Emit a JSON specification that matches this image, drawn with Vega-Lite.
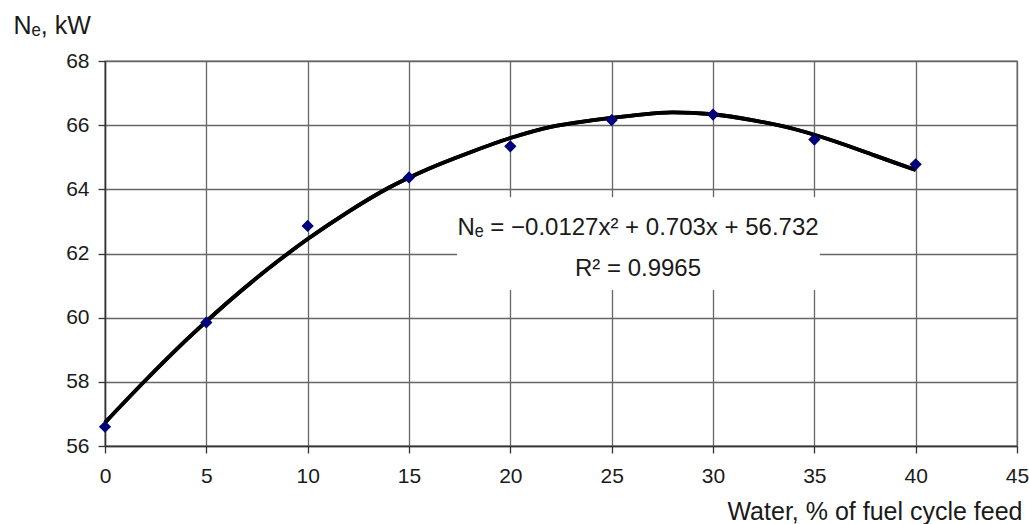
{
  "$schema": "https://vega.github.io/schema/vega-lite/v6.json",
  "width": 912,
  "height": 385,
  "autosize": {"type": "none"},
  "padding": {"left": 105, "top": 61, "right": 12, "bottom": 78},
  "background": "white",
  "config": {
    "view": {"stroke": "#666666", "strokeWidth": 1.3},
    "font": "Liberation Sans",
    "axis": {
      "labelFont": "Liberation Sans",
      "titleFont": "Liberation Sans",
      "labelColor": "#1a1a1a",
      "titleColor": "#1a1a1a",
      "titleFontWeight": "normal",
      "gridColor": "#666666",
      "gridWidth": 1.3,
      "gridOpacity": 1,
      "domainColor": "#333333",
      "domainWidth": 1.5,
      "tickColor": "#333333",
      "tickWidth": 1.3,
      "tickSize": 7,
      "labelFlush": false
    }
  },
  "datasets": {
    "points": [
      {"water": 0, "ne": 56.6},
      {"water": 5, "ne": 59.85},
      {"water": 10, "ne": 62.86},
      {"water": 15, "ne": 64.37},
      {"water": 20, "ne": 65.34},
      {"water": 25, "ne": 66.16},
      {"water": 30, "ne": 66.33},
      {"water": 35, "ne": 65.55},
      {"water": 40, "ne": 64.78}
    ],
    "curve": [
      {"water": 0, "ne": 56.73},
      {"water": 2, "ne": 58.05},
      {"water": 4, "ne": 59.3},
      {"water": 6, "ne": 60.45},
      {"water": 8, "ne": 61.5},
      {"water": 10, "ne": 62.45},
      {"water": 12, "ne": 63.3},
      {"water": 14, "ne": 64.05},
      {"water": 16, "ne": 64.65},
      {"water": 18, "ne": 65.15},
      {"water": 20, "ne": 65.6},
      {"water": 22, "ne": 65.95},
      {"water": 24, "ne": 66.15},
      {"water": 26, "ne": 66.3},
      {"water": 28, "ne": 66.4},
      {"water": 30, "ne": 66.34},
      {"water": 32, "ne": 66.15},
      {"water": 34, "ne": 65.88},
      {"water": 36, "ne": 65.5},
      {"water": 38, "ne": 65.05},
      {"water": 40, "ne": 64.6}
    ],
    "one": [{"k": 1}]
  },
  "layer": [
    {
      "data": {"name": "curve"},
      "mark": {"type": "line", "color": "black", "strokeWidth": 3.8, "interpolate": "monotone"},
      "encoding": {
        "x": {
          "field": "water",
          "type": "quantitative",
          "scale": {"domain": [0, 45], "nice": false, "zero": false},
          "axis": {
            "values": [0, 5, 10, 15, 20, 25, 30, 35, 40, 45],
            "grid": true,
            "labelFontSize": 21,
            "labelPadding": 12,
            "title": "Water, % of fuel cycle feed",
            "titleFontSize": 25,
            "titleAnchor": null,
            "titleAlign": "right",
            "titleBaseline": "alphabetic",
            "titleX": 917,
            "titleY": 73
          }
        },
        "y": {
          "field": "ne",
          "type": "quantitative",
          "scale": {"domain": [56, 68], "nice": false, "zero": false},
          "axis": {
            "values": [56, 58, 60, 62, 64, 66, 68],
            "grid": true,
            "labelFontSize": 21,
            "labelPadding": 9,
            "title": "Nₑ, kW",
            "titleFontSize": 25,
            "titleAngle": 0,
            "titleAnchor": null,
            "titleAlign": "left",
            "titleBaseline": "alphabetic",
            "titleX": -92,
            "titleY": -28
          }
        }
      }
    },
    {
      "data": {"name": "one"},
      "mark": {"type": "rect", "color": "white", "opacity": 1},
      "encoding": {
        "x": {"datum": 17.37, "type": "quantitative"},
        "x2": {"datum": 35.27},
        "y": {"datum": 63.75, "type": "quantitative"},
        "y2": {"datum": 60.86}
      }
    },
    {
      "data": {"name": "curve"},
      "mark": {"type": "line", "color": "black", "strokeWidth": 3.8, "interpolate": "monotone"},
      "encoding": {
        "x": {"field": "water", "type": "quantitative"},
        "y": {"field": "ne", "type": "quantitative"}
      }
    },
    {
      "data": {"name": "points"},
      "mark": {"type": "point", "shape": "diamond", "filled": true, "color": "#00007a", "size": 150, "opacity": 1},
      "encoding": {
        "x": {"field": "water", "type": "quantitative"},
        "y": {"field": "ne", "type": "quantitative"}
      }
    },
    {
      "data": {"name": "one"},
      "mark": {"type": "text", "fontSize": 24, "font": "Liberation Sans", "color": "#1a1a1a", "align": "center", "baseline": "alphabetic"},
      "encoding": {
        "x": {"datum": 26.3, "type": "quantitative"},
        "y": {"datum": 62.57, "type": "quantitative"},
        "text": {"value": "Nₑ = −0.0127x² + 0.703x + 56.732"}
      }
    },
    {
      "data": {"name": "one"},
      "mark": {"type": "text", "fontSize": 24, "font": "Liberation Sans", "color": "#1a1a1a", "align": "center", "baseline": "alphabetic"},
      "encoding": {
        "x": {"datum": 26.3, "type": "quantitative"},
        "y": {"datum": 61.29, "type": "quantitative"},
        "text": {"value": "R² = 0.9965"}
      }
    }
  ]
}
